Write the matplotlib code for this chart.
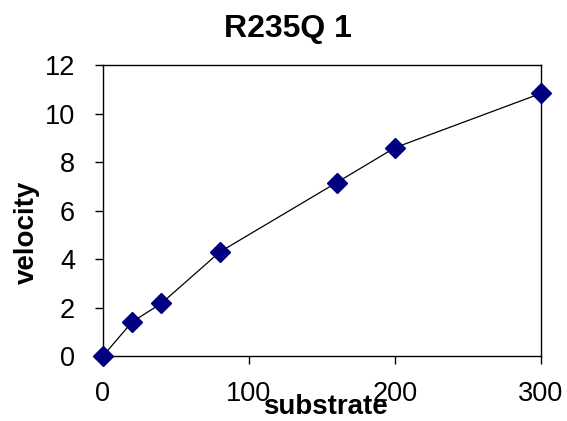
import matplotlib
matplotlib.use("Agg")
import matplotlib.pyplot as plt

substrate = [0, 20, 40, 80, 160, 200, 300]
velocity = [0, 1.41, 2.17, 4.29, 7.15, 8.59, 10.83]
x_ticks = [0, 100, 200, 300]
y_ticks = [0, 2, 4, 6, 8, 10, 12]

plt.rcParams['font.family'] = ['Liberation Sans', 'DejaVu Sans']

fig = plt.figure(figsize=(5.67, 4.21), dpi=100)
ax = fig.add_axes([103/567, 1-356/421, (541-103)/567, (356-65)/421])
ax.plot(substrate, velocity, color='black', lw=0.9, zorder=2)
ax.plot(substrate, velocity, linestyle='none', marker='D', ms=10, color='#000080', zorder=3, clip_on=False)
ax.set_xlim(0, 300)
ax.set_ylim(0, 12)
ax.set_xticks(x_ticks)
ax.set_yticks(y_ticks)
ax.tick_params(direction='out', length=6, width=1, labelsize=19.5)
ax.tick_params(axis='y', pad=14)
ax.tick_params(axis='x', pad=12)
for s in ax.spines.values():
    s.set_linewidth(1)
fig.text(288/567, 1-29/421, 'R235Q 1', fontsize=23, fontweight='bold', ha='center', va='center')
fig.text(325/567, 1-407/421, 'substrate', fontsize=20, fontweight='bold', ha='center', va='center')
fig.text(27/567, 1-232/421, 'velocity', fontsize=20, fontweight='bold', ha='center', va='center', rotation=90)
fig.savefig('out.png', dpi=100)
